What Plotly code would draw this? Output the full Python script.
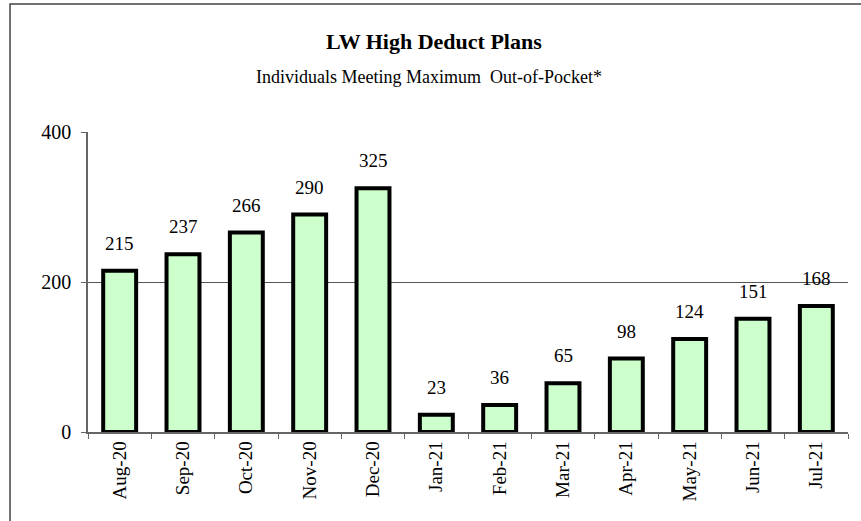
import plotly.graph_objects as go

months = ["Aug-20", "Sep-20", "Oct-20", "Nov-20", "Dec-20", "Jan-21",
          "Feb-21", "Mar-21", "Apr-21", "May-21", "Jun-21", "Jul-21"]
values = [215, 237, 266, 290, 325, 23, 36, 65, 98, 124, 151, 168]
y_ticks = [0, 200, 400]

FONT = "Liberation Serif, Times New Roman, serif"

fig = go.Figure()
fig.add_trace(go.Bar(
    x=months, y=values,
    marker=dict(color="#CCFFCC", line=dict(color="black", width=4)),
    width=0.52,
    hoverinfo="x+y",
))

for m, v in zip(months, values):
    fig.add_annotation(x=m, y=v, text=str(v), showarrow=False,
                       yanchor="bottom", yshift=15,
                       font=dict(family=FONT, size=19, color="black"))

fig.add_annotation(xref="paper", yref="paper", x=0.455, y=1.30, yanchor="middle",
                   text="<b>LW High Deduct Plans</b>", showarrow=False,
                   font=dict(family=FONT, size=22, color="black"))
fig.add_annotation(xref="paper", yref="paper", x=0.449, y=1.183, yanchor="middle",
                   text="Individuals Meeting Maximum  Out-of-Pocket*", showarrow=False,
                   font=dict(family=FONT, size=18, color="black"))

# outer chart frame
fig.add_shape(type="rect", xref="paper", yref="paper",
              x0=-0.1026, x1=1.3, y0=-0.6, y1=1.4267,
              line=dict(color="#444444", width=1.5), fillcolor="rgba(0,0,0,0)",
              layer="below")

fig.update_layout(
    width=861, height=521,
    margin=dict(l=88, r=13, t=132, b=89),
    plot_bgcolor="white", paper_bgcolor="white",
    showlegend=False,
    font=dict(family=FONT, size=19, color="black"),
    xaxis=dict(
        type="category", tickangle=-90, tickson="boundaries",
        ticks="outside", ticklen=5, tickcolor="#666666",
        showline=True, linecolor="#666666", linewidth=1.5,
        showgrid=False, tickfont=dict(family=FONT, size=19),
    ),
    yaxis=dict(
        range=[0, 400], tickvals=y_ticks,
        ticks="outside", ticklen=5, tickcolor="#666666",
        showline=True, linecolor="#666666", linewidth=1.5,
        showgrid=True, gridcolor="#555555", gridwidth=1,
        zeroline=False, tickfont=dict(family=FONT, size=20),
        ticklabelstandoff=6,
    ),
)

fig.write_html("out.html", config={"displayModeBar": False},
               post_script="document.body.style.margin='0';")
